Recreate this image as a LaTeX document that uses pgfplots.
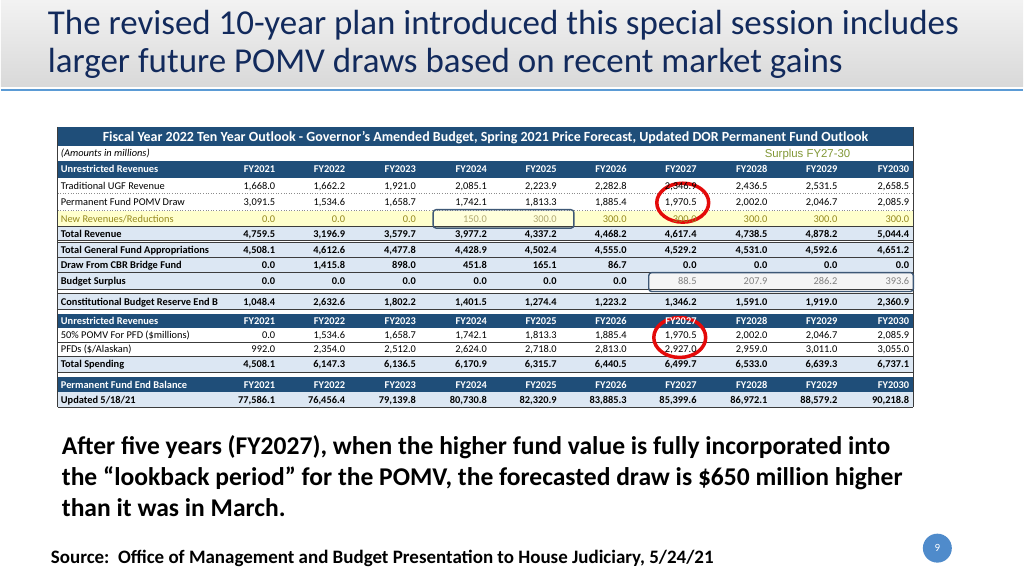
\documentclass[border=0pt]{standalone}
\usepackage{fontspec}
\setmainfont{Carlito}
\newfontfamily\arialfont{Liberation Sans}
\usepackage{pgfplots}
\usepackage{pgfplotstable}
\pgfplotsset{compat=1.18}

\definecolor{navy}{RGB}{18,42,92}
\definecolor{rule}{RGB}{91,155,213}
\definecolor{hdrblue}{RGB}{31,78,121}
\definecolor{rowblue}{RGB}{220,231,243}
\definecolor{rowyel}{RGB}{255,255,204}
\definecolor{olive}{RGB}{150,138,30}
\definecolor{olivelt}{RGB}{176,168,112}
\definecolor{surpgreen}{RGB}{130,152,55}
\definecolor{boxline}{RGB}{62,88,118}
\definecolor{linegray}{RGB}{60,60,60}
\definecolor{circred}{RGB}{228,10,10}
\definecolor{pagecirc}{RGB}{79,139,203}

\newcommand\tabfont{\fontsize{10.4}{11}\selectfont}

% values of the outlook table, one column per row of the sheet
\pgfplotstableread{
x   hdr    trad    pomv    newrev totrev  gfapp   cbr     surp  cbre    pfdpomv pfd     spend   pfbal
275 FY2021 1,668.0 3,091.5 0.0    4,759.5 4,508.1 0.0     0.0   1,048.4 0.0     992.0   4,508.1 77,586.1
345 FY2022 1,662.2 1,534.6 0.0    3,196.9 4,612.6 1,415.8 0.0   2,632.6 1,534.6 2,354.0 6,147.3 76,456.4
416 FY2023 1,921.0 1,658.7 0.0    3,579.7 4,477.8 898.0   0.0   1,802.2 1,658.7 2,512.0 6,136.5 79,139.8
487 FY2024 2,085.1 1,742.1 150.0  3,977.2 4,428.9 451.8   0.0   1,401.5 1,742.1 2,624.0 6,170.9 80,730.8
557 FY2025 2,223.9 1,813.3 300.0  4,337.2 4,502.4 165.1   0.0   1,274.4 1,813.3 2,718.0 6,315.7 82,320.9
627 FY2026 2,282.8 1,885.4 300.0  4,468.2 4,555.0 86.7    0.0   1,223.2 1,885.4 2,813.0 6,440.5 83,885.3
697 FY2027 2,346.9 1,970.5 300.0  4,617.4 4,529.2 0.0     88.5  1,346.2 1,970.5 2,927.0 6,499.7 85,399.6
768 FY2028 2,436.5 2,002.0 300.0  4,738.5 4,531.0 0.0     207.9 1,591.0 2,002.0 2,959.0 6,533.0 86,972.1
838 FY2029 2,531.5 2,046.7 300.0  4,878.2 4,592.6 0.0     286.2 1,919.0 2,046.7 3,011.0 6,639.3 88,579.2
910 FY2030 2,658.5 2,085.9 300.0  5,044.4 4,651.2 0.0     393.6 2,360.9 2,085.9 3,055.0 6,737.1 90,218.8
}\outlook

\pgfplotsset{
  cell/.style={draw=none, nodes near coords, point meta=explicit symbolic,
    every node near coord/.append style={anchor=base east, inner sep=0pt, font=\tabfont, text=black}},
  cellb/.style={cell, every node near coord/.append style={font=\tabfont\bfseries}},
  cellh/.style={cell, every node near coord/.append style={font=\tabfont\bfseries, text=white}},
}
\tikzset{
  lab/.style={anchor=base west, inner sep=0pt, font=\tabfont},
  labb/.style={lab, font=\tabfont\bfseries},
  labh/.style={lab, font=\tabfont\bfseries, text=white},
  sep/.style={linegray, line width=0.7pt},
}

\begin{document}
\begin{tikzpicture}
\begin{axis}[scale only axis, width=1024pt, height=576pt,
  xmin=0, xmax=1024, ymin=0, ymax=576, y dir=reverse,
  axis lines=none, ticks=none, clip=false]

% slide background and title band
\fill[white] (0,0) rectangle (1024,576);
\shade[top color=black!5, bottom color=black!15] (0,0) rectangle (1024,87);
\draw[rule, line width=1.6pt] (0,90) -- (1024,90);
\node[anchor=base west, inner sep=0pt, text=navy, font=\fontsize{35}{40}\selectfont] at (47,35)
  {The revised 10-year plan introduced this special session includes};
\node[anchor=base west, inner sep=0pt, text=navy, font=\fontsize{35}{40}\selectfont] at (47,73)
  {larger future POMV draws based on recent market gains};

% table backgrounds
\fill[hdrblue] (57,127) rectangle (914,146);
\fill[hdrblue] (57,161) rectangle (914,178);
\fill[rowyel] (57,211) rectangle (914,227);
\fill[rowblue] (57,227) rectangle (914,241);
\fill[rowblue] (57,243) rectangle (914,290);
\fill[rowblue] (57,294) rectangle (914,310);
\fill[hdrblue] (57,314) rectangle (914,329);
\fill[rowblue] (57,357) rectangle (914,373);
\fill[hdrblue] (57,378) rectangle (914,393);
\fill[rowblue] (57,393) rectangle (914,408);
\fill[black!4] (649,273) rectangle (914,291);
\fill[rowyel!70!white] (433,211) rectangle (574,228);

% table rules
\draw[black!45, dotted, line width=0.6pt] (57,194) -- (914,194) (57,211) -- (914,211);
\draw[sep] (57,227) -- (914,227);
\draw[sep] (57,241) -- (914,241) (57,243) -- (914,243);
\draw[sep] (57,258) -- (914,258) (57,273) -- (914,273) (57,290) -- (914,290);
\draw[sep] (57,294) -- (914,294) (57,310) -- (914,310);
\draw[sep] (57,343) -- (914,343) (57,357) -- (914,357) (57,373) -- (914,373);
\draw[sep] (57,408) -- (914,408);
\draw[sep] (57,127) -- (57,408) (914,127) -- (914,408);

% row labels
\node[anchor=base, inner sep=0pt, text=white, font=\fontsize{14}{16}\selectfont\bfseries] at (485.5,141.5)
  {Fiscal Year 2022 Ten Year Outlook - Governor's Amended Budget, Spring 2021 Price Forecast, Updated DOR Permanent Fund Outlook};
\node[lab, font=\tabfont\itshape] at (60,157.2) {(Amounts in millions)};
\node[anchor=base west, inner sep=0pt, text=surpgreen, font=\arialfont\fontsize{11.4}{13}\selectfont] at (765,157.5) {Surplus FY27-30};
\node[labh] at (60,173) {Unrestricted Revenues};
\node[lab] at (60,189.5) {Traditional UGF Revenue};
\node[lab] at (60,206) {Permanent Fund POMV Draw};
\node[lab, text=olive] at (60,222.5) {New Revenues/Reductions};
\node[labb] at (60,237.5) {Total Revenue};
\node[labb] at (60,254) {Total General Fund Appropriations};
\node[labb] at (60,269) {Draw From CBR Bridge Fund};
\node[labb] at (60,285) {Budget Surplus};
\node[labb] at (60,305.5) {Constitutional Budget Reserve End B};
\node[labh] at (60,325) {Unrestricted Revenues};
\node[lab] at (60,339.5) {50\% POMV For PFD (\$millions)};
\node[lab] at (60,353.5) {PFDs (\$/Alaskan)};
\node[labb] at (60,368.5) {Total Spending};
\node[labh] at (60,389) {Permanent Fund End Balance};
\node[labb] at (60,404) {Updated 5/18/21};

% table values
\addplot[cellh] table[x=x, y expr=173, meta=hdr] {\outlook};
\addplot[cell] table[x=x, y expr=189.5, meta=trad] {\outlook};
\addplot[cell] table[x=x, y expr=206, meta=pomv] {\outlook};
\addplot[cell, restrict x to domain=0:420, every node near coord/.append style={text=olive}] table[x=x, y expr=222.5, meta=newrev] {\outlook};
\addplot[cell, restrict x to domain=480:560, every node near coord/.append style={text=olivelt}] table[x=x, y expr=222.5, meta=newrev] {\outlook};
\addplot[cell, restrict x to domain=600:1000, every node near coord/.append style={text=olive}] table[x=x, y expr=222.5, meta=newrev] {\outlook};
\addplot[cellb] table[x=x, y expr=237.5, meta=totrev] {\outlook};
\addplot[cellb] table[x=x, y expr=254, meta=gfapp] {\outlook};
\addplot[cellb] table[x=x, y expr=269, meta=cbr] {\outlook};
\addplot[cellb, restrict x to domain=0:640] table[x=x, y expr=285, meta=surp] {\outlook};
\addplot[cell, restrict x to domain=660:1000, every node near coord/.append style={text=black!50}] table[x=x, y expr=285, meta=surp] {\outlook};
\addplot[cellb] table[x=x, y expr=305.5, meta=cbre] {\outlook};
\addplot[cellh] table[x=x, y expr=325, meta=hdr] {\outlook};
\addplot[cell] table[x=x, y expr=339.5, meta=pfdpomv] {\outlook};
\addplot[cell] table[x=x, y expr=353.5, meta=pfd] {\outlook};
\addplot[cellb] table[x=x, y expr=368.5, meta=spend] {\outlook};
\addplot[cellh] table[x=x, y expr=389, meta=hdr] {\outlook};
\addplot[cellb] table[x=x, y expr=404, meta=pfbal] {\outlook};

% highlight boxes and circles
\draw[boxline, line width=1.4pt, rounded corners=3pt] (433,210) rectangle (574,228.5);
\draw[boxline, line width=1.4pt, rounded corners=3pt] (649,273) rectangle (914,292);
\draw[circred, line width=3.5pt] (683,203) ellipse [x radius=26pt, y radius=19.5pt];
\draw[circred, line width=3.5pt] (680,338) ellipse [x radius=26pt, y radius=20pt];

% commentary
\node[anchor=base west, inner sep=0pt, font=\fontsize{25.6}{30}\selectfont\bfseries] at (61,455)
  {After five years (FY2027), when the higher fund value is fully incorporated into};
\node[anchor=base west, inner sep=0pt, font=\fontsize{25.6}{30}\selectfont\bfseries] at (61,486)
  {the “lookback period” for the POMV, the forecasted draw is \$650 million higher};
\node[anchor=base west, inner sep=0pt, font=\fontsize{25.6}{30}\selectfont\bfseries] at (61,517)
  {than it was in March.};
\node[anchor=base west, inner sep=0pt, font=\fontsize{19}{22}\selectfont\bfseries] at (50,564)
  {Source:\ \ Office of Management and Budget Presentation to House Judiciary, 5/24/21};
\fill[pagecirc] (938,549) circle [radius=14.5pt];
\node[text=white, font=\fontsize{11}{12}\selectfont] at (938,549) {9};
\end{axis}
\end{tikzpicture}
\end{document}
